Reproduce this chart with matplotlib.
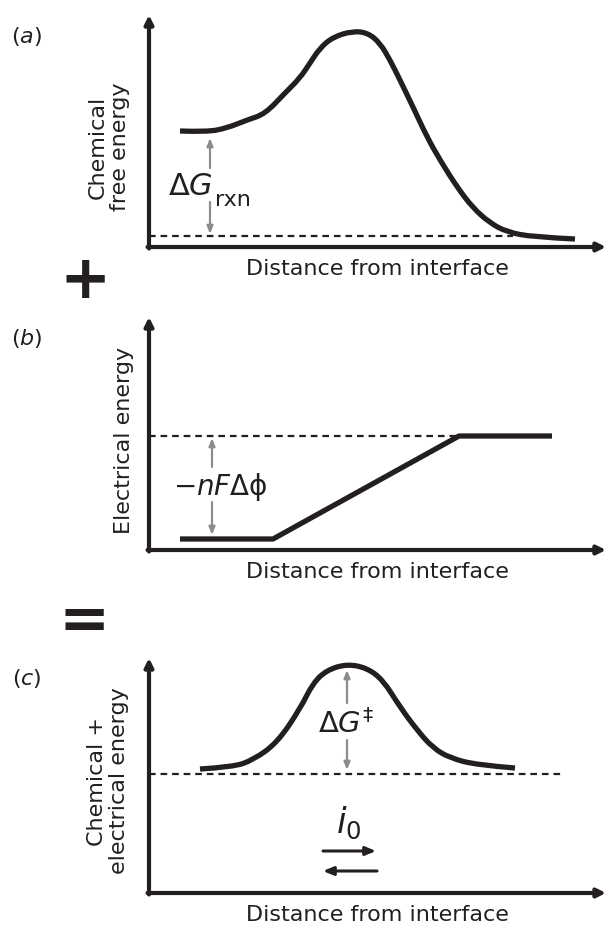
import numpy as np
import matplotlib
matplotlib.use('Agg')
import matplotlib.pyplot as plt
from matplotlib.path import Path
from matplotlib.patches import PathPatch

plt.rcParams['font.family'] = ['DejaVu Sans']
plt.rcParams['mathtext.fontset'] = 'dejavusans'

INK = '#231f20'
GREY = '#8c8c8c'
W, H = 607, 925

# schematic curves, units = pixels from each panel origin
chem_x = [31, 58, 78, 98, 116, 136, 151, 161, 171, 184, 204, 219, 231, 241,
          251, 264, 278, 291, 308, 324, 341, 358, 384, 426]
chem_y = [116, 115, 119, 127, 133, 154, 169, 184, 199, 210, 216, 214, 204, 187,
          167, 140, 110, 87, 60, 39, 24, 15, 10, 8]
chem_ref = 11

elec_x = [31, 124, 310, 403]
elec_y = [11, 11, 114, 114]

tot_x = [51, 84, 104, 128, 151, 164, 178, 198, 218, 234, 251, 268, 284, 301, 328, 366]
tot_y = [124, 126, 133, 150, 184, 210, 223, 229, 225, 213, 186, 163, 145, 135, 128, 125]
tot_ref = 119

xlabel = 'Distance from interface'


def panel(origin_y, top_y, ylabel, ylab_x, ylab_y, tag):
    h = origin_y - top_y
    ax = fig.add_axes([149 / W, (H - origin_y) / H, (W - 149) / W, h / H])
    ax.set_xlim(0, W - 149)
    ax.set_ylim(0, h)
    ax.axis('off')
    st = dict(arrowstyle='-|>,head_length=0.5,head_width=0.25',
              lw=3, color=INK, shrinkA=0, shrinkB=0)
    ax.annotate('', xy=(W - 149 - 1, 0), xytext=(-1.5, 0), arrowprops=st,
                annotation_clip=False)
    ax.annotate('', xy=(0, h), xytext=(0, -1.5), arrowprops=st,
                annotation_clip=False)
    ax.text(228, -12, xlabel, fontsize=16, ha='center', va='top', color=INK)
    ax.text(ylab_x, ylab_y, ylabel, fontsize=16, rotation=90, ha='center',
            va='center', multialignment='center', color=INK, linespacing=1.15)
    ax.text(-122, h - 21, '(' + r'$\it{' + tag + '}$' + ')', fontsize=16,
            ha='center', va='center', color=INK)
    return ax


def smooth_curve(ax, xs, ys):
    # quadratic bezier through midpoints, the read points act as controls
    p = np.column_stack([xs, ys]).astype(float)
    n = len(p)
    verts = [p[0]]
    codes = [Path.MOVETO]
    for i in range(1, n - 1):
        end = p[n - 1] if i == n - 2 else (p[i] + p[i + 1]) / 2
        verts += [p[i], end]
        codes += [Path.CURVE3, Path.CURVE3]
    ax.add_patch(PathPatch(Path(verts, codes), fill=False, ec=INK, lw=3.8,
                           capstyle='butt', joinstyle='round'))


def grey_arrow(ax, x, lo, hi, gap_lo, gap_hi):
    st = dict(arrowstyle='-|>,head_length=0.45,head_width=0.18', lw=1.6,
              color=GREY, shrinkA=0, shrinkB=0)
    ax.annotate('', xy=(x, hi), xytext=(x, gap_hi), arrowprops=st)
    ax.annotate('', xy=(x, lo), xytext=(x, gap_lo), arrowprops=st)


dash = (0, (3, 2.2))
fig = plt.figure(figsize=(W / 100, H / 100), dpi=100)

# (a) chemical free energy
ax1 = panel(247, 15, 'Chemical\nfree energy', -40, 100, 'a')
smooth_curve(ax1, chem_x, chem_y)
ax1.plot([0, 364], [chem_ref, chem_ref], color=INK, lw=1.6, ls=dash)
grey_arrow(ax1, 61, 13, 109, 45, 79)
ax1.text(64, 52, r'$\Delta G$', fontsize=22, ha='right', va='baseline', color=INK)
ax1.text(66, 41, 'rxn', fontsize=16, ha='left', va='baseline', color=INK)
ax1.text(-64, -35, '+', fontsize=44, fontweight='bold', ha='center',
         va='center', color=INK)

# (b) electrical energy
ax2 = panel(550, 317, 'Electrical energy', -25, 110, 'b')
ax2.plot(elec_x, elec_y, color=INK, lw=3.8, solid_capstyle='butt')
ax2.plot([0, elec_x[2]], [elec_y[2], elec_y[2]], color=INK, lw=1.6, ls=dash)
grey_arrow(ax2, 63, 15, 112, 48, 83)
ax2.text(24, 55, r'$-nF\Delta\mathrm{\phi}$', fontsize=20, ha='left',
         va='baseline', color=INK)
ax2.text(-65, -72, '=', fontsize=44, fontweight='bold', ha='center',
         va='center', color=INK)

# (c) sum
ax3 = panel(893, 658, 'Chemical +\nelectrical energy', -41, 112, 'c')
smooth_curve(ax3, tot_x, tot_y)
ax3.plot([0, 414], [tot_ref, tot_ref], color=INK, lw=1.6, ls=dash)
grey_arrow(ax3, 198, 123, 223, 153, 190)
ax3.text(169, 160, r'$\Delta G^{\ddagger}$', fontsize=21, ha='left',
         va='baseline', color=INK)
ax3.text(187, 60, r'$i_0$', fontsize=25, ha='left', va='baseline', color=INK)
blk = dict(arrowstyle='-|>,head_length=0.6,head_width=0.25', lw=2.2,
           color=INK, shrinkA=0, shrinkB=0)
ax3.annotate('', xy=(227, 42), xytext=(174, 42), arrowprops=blk)
ax3.annotate('', xy=(174, 22), xytext=(228, 22), arrowprops=blk)

fig.savefig('out.png', dpi=100)
